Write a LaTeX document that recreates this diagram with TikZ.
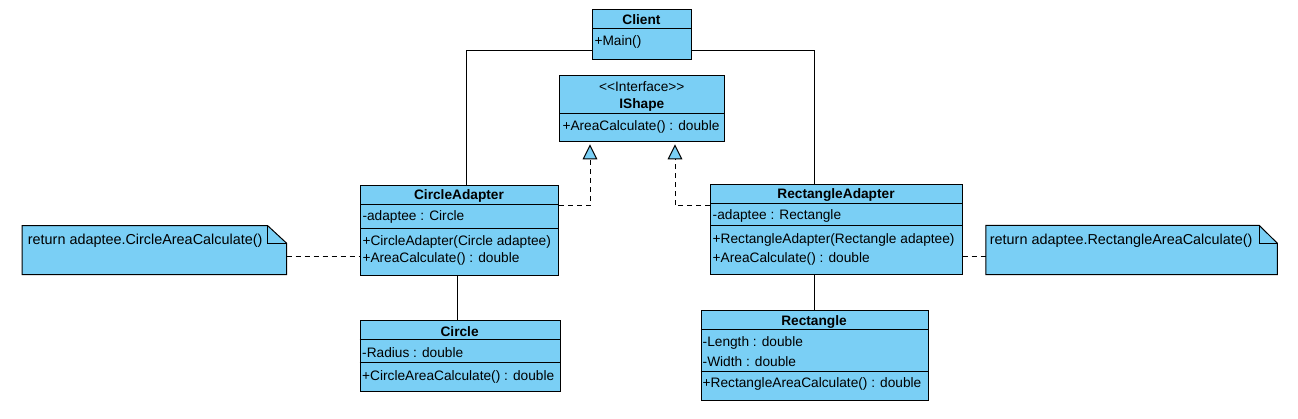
\documentclass[tikz,border=0pt]{standalone}
\usepackage{fontspec}
\setmainfont{Liberation Sans}
\usetikzlibrary{arrows.meta}
\definecolor{clsfill}{RGB}{122,207,245}
\tikzset{
  box/.style={draw=black, fill=clsfill, line width=1pt, inner sep=0pt, anchor=north west},
  ttl/.style={inner sep=0pt, font=\fontsize{13.7}{15}\selectfont\bfseries},
  row/.style={inner sep=0pt, anchor=west, font=\fontsize{13.7}{15}\selectfont},
  notetext/.style={inner sep=0pt, anchor=west, font=\fontsize{14.4}{16}\selectfont},
  ster/.style={inner sep=0pt, font=\fontsize{13.7}{15}\selectfont},
  div/.style={line width=1pt},
  conn/.style={line width=1pt},
  real/.style={line width=1pt, dash pattern=on 5pt off 4pt, shorten >=2pt, -{Triangle[fill=clsfill, width=14.6pt, length=15pt]}},
  notelink/.style={line width=1pt, dash pattern=on 5pt off 4pt},
  notebox/.style={draw=black, fill=clsfill, line width=1pt},
  noteanchor/.style={inner sep=0pt, anchor=north west}
}
\begin{document}
\begin{tikzpicture}[x=1pt, y=-1pt]
\useasboundingbox (0,0) rectangle (1298,419);
\fill[white] (0,0) rectangle (1298,419);

% Client
\node[box, minimum width=99pt, minimum height=50pt] (client) at (592,9.3) {};
\draw[div] (592,28.3) -- (691,28.3);
\node[ttl] (clientT) at (641.5,19.3) {Client};
\node[row] (clientM) at (594.3,42.3) {+Main()};

% IShape
\node[box, minimum width=165pt, minimum height=66pt] (ishape) at (559.3,75.3) {};
\draw[div] (559.3,113.3) -- (724.3,113.3);
\node[ster] (ishapeS) at (641.8,86.7) {<\kern0pt<Interface>\kern0pt>};
\node[ttl] (ishapeT) at (641.8,104.7) {IShape};
\node[row] (ishapeM) at (562.3,126.7) {+AreaCalculate() : double};

% CircleAdapter
\node[box, minimum width=198pt, minimum height=90pt] (cadapter) at (360,185) {};
\draw[div] (360,204.3) -- (558,204.3);
\draw[div] (360,228.3) -- (558,228.3);
\node[ttl] (cadapterT) at (459,196) {CircleAdapter};
\node[row] (cadapterA) at (362.3,217.3) {-adaptee : Circle};
\node[row] (cadapterM1) at (362.3,241.7) {+CircleAdapter(Circle adaptee)};
\node[row] (cadapterM2) at (362.3,259.3) {+AreaCalculate() : double};

% Circle
\node[box, minimum width=200pt, minimum height=71pt] (circle) at (359.6,320.3) {};
\draw[div] (359.6,339.7) -- (559.6,339.7);
\draw[div] (359.6,363) -- (559.6,363);
\node[ttl] (circleT) at (459.6,331.7) {Circle};
\node[row] (circleA) at (362,352.3) {-Radius : double};
\node[row] (circleM) at (362,376.7) {+CircleAreaCalculate() : double};

% RectangleAdapter
\node[box, minimum width=251.5pt, minimum height=90pt] (radapter) at (710.2,184.3) {};
\draw[div] (710.2,203.7) -- (961.7,203.7);
\draw[div] (710.2,226) -- (961.7,226);
\node[ttl] (radapterT) at (836,194.7) {RectangleAdapter};
\node[row] (radapterA) at (712.5,216) {-adaptee : Rectangle};
\node[row] (radapterM1) at (712.5,240) {+RectangleAdapter(Rectangle adaptee)};
\node[row] (radapterM2) at (712.5,258.7) {+AreaCalculate() : double};

% Rectangle
\node[box, minimum width=227pt, minimum height=89.7pt] (rect) at (700.5,310.3) {};
\draw[div] (700.5,329.3) -- (927.5,329.3);
\draw[div] (700.5,372) -- (927.5,372);
\node[ttl] (rectT) at (814,321.7) {Rectangle};
\node[row] (rectA1) at (702.5,342.7) {-Length : double};
\node[row] (rectA2) at (702.5,361.7) {-Width : double};
\node[row] (rectM) at (702.5,384) {+RectangleAreaCalculate() : double};

% Notes
\node[noteanchor, minimum width=264.1pt, minimum height=48.6pt] (note1) at (22.2,225.7) {};
\draw[notebox] (note1.north west) -- ([xshift=-19pt]note1.north east) -- ([yshift=-17.6pt]note1.north east) -- (note1.south east) -- (note1.south west) -- cycle;
\draw[line width=1pt] ([xshift=-19pt]note1.north east) |- ([yshift=-17.6pt]note1.north east);
\node[notetext] (note1T) at (27.7,240.7) {return adaptee.CircleAreaCalculate()};

\node[noteanchor, minimum width=291.2pt, minimum height=49pt] (note2) at (985.8,225.3) {};
\draw[notebox] (note2.north west) -- ([xshift=-18.3pt]note2.north east) -- ([yshift=-18pt]note2.north east) -- (note2.south east) -- (note2.south west) -- cycle;
\draw[line width=1pt] ([xshift=-18.3pt]note2.north east) |- ([yshift=-18pt]note2.north east);
\node[notetext] (note2T) at (989.7,240.7) {return adaptee.RectangleAreaCalculate()};

% Connectors
\coordinate (k1) at (466.7,50.7);
\coordinate (k2) at (814,50.7);
\coordinate (k3) at (590,206);
\coordinate (k4) at (675,206);
\coordinate (k5) at (457.6,0);
\coordinate (k6) at (814.2,0);
\coordinate (k7) at (0,256.3);

\draw[conn] (client.west |- k1) -| (cadapter.north -| k1);
\draw[conn] (client.east |- k2) -| (radapter.north -| k2);
\draw[real] (cadapter.east |- k3) -| (ishape.south -| k3);
\draw[real] (radapter.west |- k4) -| (ishape.south -| k4);
\draw[conn] (cadapter.south -| k5) -- (circle.north -| k5);
\draw[conn] (radapter.south -| k6) -- (rect.north -| k6);
\draw[notelink] (note1.east |- k7) -- (cadapter.west |- k7);
\draw[notelink] (radapter.east |- k7) -- (note2.west |- k7);
\end{tikzpicture}
\end{document}
